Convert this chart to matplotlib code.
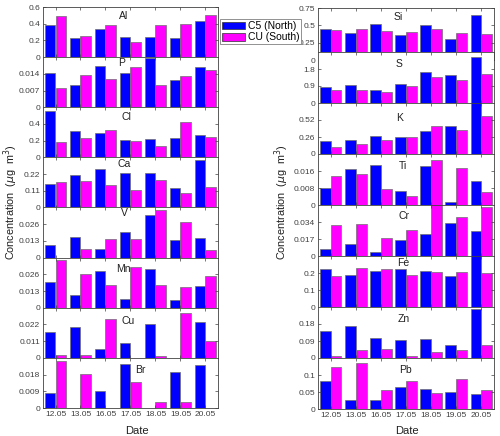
import matplotlib
matplotlib.use('Agg')
import matplotlib.pyplot as plt
from matplotlib.patches import Patch
from matplotlib.ticker import FuncFormatter
import numpy as np

plt.rcParams['font.family'] = ['Liberation Sans', 'DejaVu Sans']

dates = ['12.05', '13.05', '16.05', '17.05', '18.05', '19.05', '20.05']
series_labels = ['C5 (North)', 'CU (South)']

left_elements = ['Al', 'P', 'Cl', 'Ca', 'V', 'Mn', 'Cu', 'Br']
right_elements = ['Si', 'S', 'K', 'Ti', 'Cr', 'Fe', 'Zn', 'Pb']

# values (ug m^-3): north = C5, south = CU
al_north = [0.38, 0.232, 0.336, 0.24, 0.24, 0.228, 0.436]
al_south = [0.49, 0.256, 0.388, 0.18, 0.38, 0.392, 0.50]
p_north = [0.0145, 0.0095, 0.0171, 0.0144, 0.0206, 0.0116, 0.0170]
p_south = [0.0079, 0.0135, 0.0117, 0.0168, 0.0095, 0.0132, 0.0154]
cl_north = [0.553, 0.32, 0.288, 0.213, 0.217, 0.229, 0.268]
cl_south = [0.19, 0.23, 0.324, 0.20, 0.142, 0.426, 0.249]
ca_north = [0.156, 0.211, 0.251, 0.224, 0.227, 0.13, 0.31]
ca_south = [0.165, 0.172, 0.145, 0.117, 0.178, 0.095, 0.132]
v_north = [0.0099, 0.0161, 0.0070, 0.0200, 0.0330, 0.0138, 0.0151]
v_south = [0.0, 0.0068, 0.0148, 0.0146, 0.0369, 0.0278, 0.0060]
mn_north = [0.0200, 0.0096, 0.0283, 0.0070, 0.0299, 0.0057, 0.0172]
mn_south = [0.0372, 0.0260, 0.0180, 0.0320, 0.0180, 0.0161, 0.0247]
cu_north = [0.0168, 0.0203, 0.0059, 0.0098, 0.0223, 0.0, 0.0234]
cu_south = [0.0020, 0.0022, 0.0258, 0.0, 0.0015, 0.0293, 0.0109]
br_north = [0.0082, 0.0, 0.0094, 0.0236, 0.0, 0.0194, 0.0231]
br_south = [0.0252, 0.0181, 0.0, 0.0140, 0.0030, 0.0032, 0.0]

si_north = [0.447, 0.388, 0.515, 0.364, 0.505, 0.296, 0.646]
si_south = [0.437, 0.447, 0.417, 0.408, 0.447, 0.383, 0.379]
s_north = [0.865, 0.97, 0.688, 1.02, 1.64, 1.48, 2.45]
s_south = [0.688, 0.706, 0.582, 0.90, 1.38, 1.24, 1.54]
k_north = [0.199, 0.209, 0.28, 0.255, 0.357, 0.433, 0.85]
k_south = [0.112, 0.153, 0.219, 0.265, 0.428, 0.372, 0.587]
ti_north = [0.0079, 0.0171, 0.0190, 0.0068, 0.0185, 0.0013, 0.0112]
ti_south = [0.0135, 0.0144, 0.0076, 0.0044, 0.0211, 0.0174, 0.0063]
cr_north = [0.0070, 0.0123, 0.0037, 0.0160, 0.0223, 0.0333, 0.0247]
cr_south = [0.0310, 0.0320, 0.0183, 0.0260, 0.0550, 0.0393, 0.0490]
fe_north = [0.223, 0.187, 0.212, 0.225, 0.213, 0.185, 0.32]
fe_south = [0.183, 0.229, 0.221, 0.187, 0.204, 0.208, 0.202]
zn_north = [0.143, 0.169, 0.104, 0.094, 0.099, 0.069, 0.258]
zn_south = [0.012, 0.042, 0.048, 0.012, 0.032, 0.041, 0.069]
pb_north = [0.083, 0.0275, 0.0275, 0.064, 0.060, 0.049, 0.044]
pb_south = [0.1225, 0.134, 0.055, 0.083, 0.046, 0.087, 0.057]

# tick step of each panel's y axis (limit = 3 steps)
left_steps = [0.2, 0.007, 0.2, 0.11, 0.013, 0.013, 0.011, 0.009]
right_steps = [0.25, 0.9, 0.26, 0.008, 0.017, 0.1, 0.09, 0.05]

left_data = [(al_north, al_south), (p_north, p_south), (cl_north, cl_south),
             (ca_north, ca_south), (v_north, v_south), (mn_north, mn_south),
             (cu_north, cu_south), (br_north, br_south)]
right_data = [(si_north, si_south), (s_north, s_south), (k_north, k_south),
              (ti_north, ti_south), (cr_north, cr_south), (fe_north, fe_south),
              (zn_north, zn_south), (pb_north, pb_south)]

W, H = 500, 436
fig = plt.figure(figsize=(W / 100, H / 100), dpi=100)

blue = '#0000ff'
magenta = '#ff00ff'
edge = '#707070'
axcol = '#404040'

# layout in pixels
left_boxes = [(43, 7 + i * 50.125, 175, 50.125) for i in range(8)]
right_boxes = [(318, 8, 176, 52)] + [(318, 52 + (i - 1) * 51, 176, 51) for i in range(1, 8)]

left_title_pos = [(124, 9), (122, 6), (126, 10), (124, 7), (124, 6), (123, 11), (128, 13), (140, 12)]
right_title_pos = [(398, 9), (399, 12), (400, 15), (403, 12), (404, 11), (403, 7), (404, 12), (405, 12)]

fmt = FuncFormatter(lambda v, p: '%g' % round(v, 6))
x = np.arange(1, len(dates) + 1)
bw = 0.43


def make_panel(box, name, step, vals, tpos, top, bottom):
    x0, y0, w, h = box
    ax = fig.add_axes([x0 / W, 1 - (y0 + h) / H, w / W, h / H])
    ax.set_facecolor('white')
    ax.bar(x - bw / 2, vals[0], bw, color=blue, edgecolor=edge, linewidth=0.5)
    ax.bar(x + bw / 2, vals[1], bw, color=magenta, edgecolor=edge, linewidth=0.5)
    ax.set_xlim(0.5, len(dates) + 0.5)
    ax.set_ylim(0, 3 * step)
    ticks = [0, step, 2 * step] + ([3 * step] if top else [])
    ax.set_yticks(ticks)
    ax.yaxis.set_major_formatter(fmt)
    ax.set_xticks(x)
    if bottom:
        ax.set_xticklabels(dates)
    else:
        ax.set_xticklabels([])
    ax.tick_params(direction='in', length=2, width=0.5, top=True, right=True,
                   labelsize=6, colors=axcol, pad=2)
    for s in ax.spines.values():
        s.set_color(axcol)
        s.set_linewidth(0.6)
    tx, ty = tpos
    ax.text((tx - x0) / w, 1 - ty / h, name, transform=ax.transAxes,
            ha='center', va='center', fontsize=7.5, color='#202020')
    return ax


for i in range(8):
    ax = make_panel(left_boxes[i], left_elements[i], left_steps[i], left_data[i],
                    left_title_pos[i], i == 0, i == 7)
    if i == 7:
        ax.set_xlabel('Date', fontsize=8, color='#202020')
        ax.xaxis.set_label_coords((137 - 43) / 175, -(426 - 408) / 50.125)

for i in range(8):
    ax = make_panel(right_boxes[i], right_elements[i], right_steps[i], right_data[i],
                    right_title_pos[i], i == 0, i == 7)
    if i == 0:
        ax.set_yticks([0, 0.25, 0.5, 0.75])
    if i == 7:
        ax.set_xlabel('Date', fontsize=8, color='#202020')
        ax.xaxis.set_label_coords((407 - 318) / 176, -(426 - 409) / 51)

ylabel = r'Concentration  ($\mu$g  m$^3$)'
fig.text(10.5 / W, 1 - 202 / H, ylabel, rotation=90, ha='center', va='center',
         fontsize=7.8, color='#202020')
fig.text(282 / W, 1 - 202 / H, ylabel, rotation=90, ha='center', va='center',
         fontsize=7.8, color='#202020')

handles = [Patch(facecolor=blue, edgecolor='#303030', linewidth=0.5),
           Patch(facecolor=magenta, edgecolor='#303030', linewidth=0.5)]
leg = fig.legend(handles, series_labels, loc='upper left',
                 bbox_to_anchor=(220 / W, 1 - 19 / H), fontsize=7.5,
                 handlelength=2.2, handleheight=0.75, handletextpad=0.25,
                 borderpad=0.2, labelspacing=0.12, borderaxespad=0,
                 fancybox=False, framealpha=1, edgecolor='#808080')
leg.get_frame().set_linewidth(0.6)

fig.savefig('out.png', dpi=100)
